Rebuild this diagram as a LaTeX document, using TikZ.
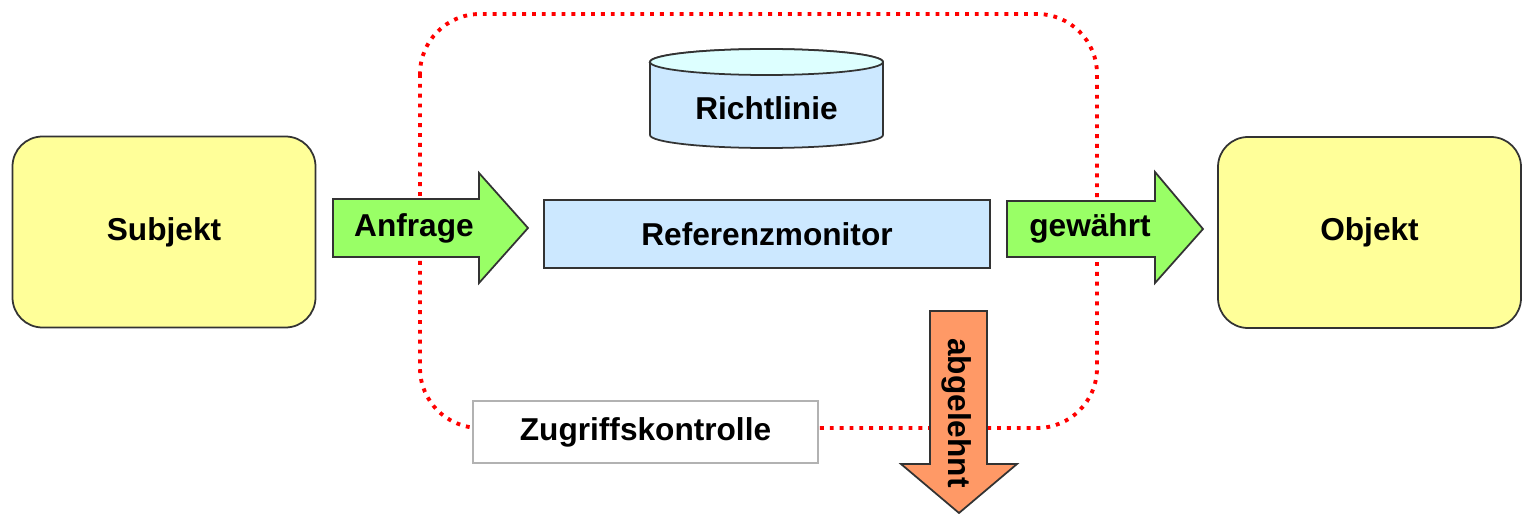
\documentclass[tikz,border=0pt]{standalone}
\usepackage{fontspec}
\setmainfont{Liberation Sans}
\usepackage{xcolor}
\usepackage{tikz}
\usetikzlibrary{positioning}
\definecolor{boxyellow}{HTML}{FFFF99}
\definecolor{monblue}{HTML}{CCE8FF}
\definecolor{cyltop}{HTML}{DDFFFF}
\definecolor{okgreen}{HTML}{99FF66}
\definecolor{noorange}{HTML}{FF9966}
\definecolor{edgegray}{HTML}{333333}
\tikzset{
  lbl/.style={font=\fontsize{18}{21}\selectfont\bfseries},
  entity/.style={draw=edgegray,line width=1pt,fill=boxyellow,rounded corners=0.6cm,minimum width=6.06cm,minimum height=3.82cm,lbl},
  blockarrow/.style={draw=edgegray,line width=1pt,line join=miter},
  frame/.style={draw=red,line width=2.2pt,dash pattern=on 2.2pt off 3.4pt,rounded corners=1.2cm}
}
\begin{document}
\begin{tikzpicture}
            % basics
            \useasboundingbox (0,0) rectangle (30.5,-10.28);
            \draw[frame] (8.4,-0.28) rectangle (21.94,-8.56);
            \node[entity] (subj) at (3.28,-4.64) {Subjekt};
            \node[entity] (obj) at (27.39,-4.65) {Objekt};
            \node[draw=edgegray,line width=1pt,fill=monblue,minimum width=8.92cm,minimum height=1.36cm,lbl] (rm) at (15.34,-4.68) {Referenzmonitor};
            % policy store
            \filldraw[draw=edgegray,line width=1pt,fill=monblue] (13.0,-1.24) -- (13.0,-2.70) arc[start angle=180,end angle=360,x radius=2.33cm,y radius=0.26cm] -- (17.66,-1.24) arc[start angle=0,end angle=180,x radius=2.33cm,y radius=0.26cm] -- cycle;
            \filldraw[draw=edgegray,line width=1pt,fill=cyltop] (15.33,-1.24) ellipse[x radius=2.33cm,y radius=0.26cm];
            \node[lbl] (rl) at (15.33,-2.16) {Richtlinie};
            % block arrows
            \filldraw[blockarrow,fill=okgreen] (6.66,-3.98) -- (9.58,-3.98) -- (9.58,-3.46) -- (10.56,-4.56) -- (9.58,-5.66) -- (9.58,-5.14) -- (6.66,-5.14) -- cycle;
            \node[lbl] (anf) at (8.28,-4.56) {Anfrage};
            \filldraw[blockarrow,fill=okgreen] (20.14,-4.02) -- (23.10,-4.02) -- (23.10,-3.44) -- (24.06,-4.58) -- (23.10,-5.66) -- (23.10,-5.14) -- (20.14,-5.14) -- cycle;
            \node[lbl] (gew) at (21.8,-4.56) {gewährt};
            \filldraw[blockarrow,fill=noorange] (18.6,-6.22) -- (19.74,-6.22) -- (19.74,-9.28) -- (20.34,-9.28) -- (19.18,-10.26) -- (18.02,-9.28) -- (18.6,-9.28) -- cycle;
            \node[lbl,rotate=-90] (abg) at (19.14,-8.26) {abgelehnt};
            % label of the frame
            \node[draw=black!30,line width=0.8pt,fill=white,minimum width=6.9cm,minimum height=1.24cm,lbl] (zk) at (12.91,-8.64) {Zugriffskontrolle};
        \end{tikzpicture}
\end{document}
